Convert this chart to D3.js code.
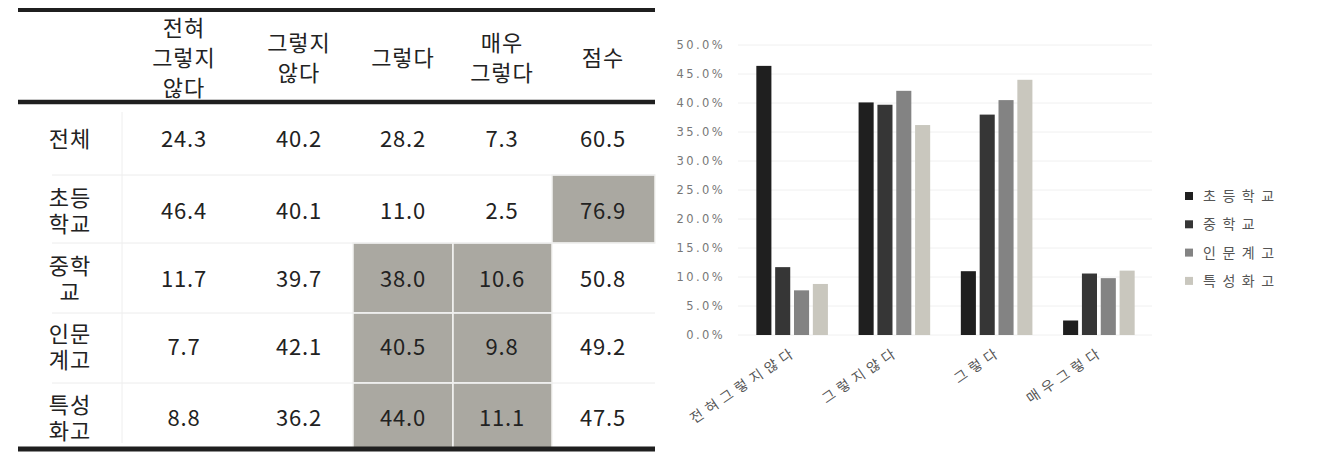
<!DOCTYPE html>
<html lang="ko">
<head>
<meta charset="utf-8">
<script src="https://cdn.jsdelivr.net/npm/d3@7"></script>
<style>
  html, body { margin: 0; padding: 0; background: #fff; }
  svg { display: block; }
</style>
</head>
<body>
<svg id="fig" width="1325" height="453"></svg>
<script>
// ---- data ----
const headerLabels = ["전혀\n그렇지\n않다", "그렇지\n않다", "그렇다", "매우\n그렇다", "점수"];
const rowLabels = ["전체", "초등\n학교", "중학\n교", "인문\n계고", "특성\n화고"];
const rowTotal = [24.3, 40.2, 28.2, 7.3, 60.5];
const rowElementary = [46.4, 40.1, 11.0, 2.5, 76.9];
const rowMiddle = [11.7, 39.7, 38.0, 10.6, 50.8];
const rowGeneralHigh = [7.7, 42.1, 40.5, 9.8, 49.2];
const rowVocationalHigh = [8.8, 36.2, 44.0, 11.1, 47.5];
const highlighted = [[1, 4], [2, 2], [2, 3], [3, 2], [3, 3], [4, 2], [4, 3]];

const categories = ["전혀그렇지않다", "그렇지않다", "그렇다", "매우그렇다"];
const schools = ["초등학교", "중학교", "인문계고", "특성화고"];
const yTicks = [0, 5, 10, 15, 20, 25, 30, 35, 40, 45, 50];

const tableRows = [rowTotal, rowElementary, rowMiddle, rowGeneralHigh, rowVocationalHigh];
const seriesRows = [rowElementary, rowMiddle, rowGeneralHigh, rowVocationalHigh];

const svg = d3.select("#fig");
const korFont = "'Noto Sans CJK KR', 'Noto Sans', sans-serif";

// ---- table ----
const colEdges = [22, 122, 245, 353, 453, 552, 655];
const rowEdges = [102, 175, 243, 313, 383, 448];
const headTop = 10, headBottom = 102;
const fmt = d3.format(".1f");

const table = svg.append("g").attr("class", "table");

// shaded cells
table.selectAll("rect.shade")
  .data(highlighted)
  .join("rect")
  .attr("class", "shade")
  .attr("x", d => colEdges[d[1] + 1])
  .attr("y", d => rowEdges[d[0]])
  .attr("width", d => colEdges[d[1] + 2] - colEdges[d[1] + 1])
  .attr("height", d => rowEdges[d[0] + 1] - rowEdges[d[0]])
  .attr("fill", "#aaa8a1")
  .attr("stroke", "#f4f4f2")
  .attr("stroke-width", 1.5);

// faint cell separators
table.selectAll("line.rowsep")
  .data(rowEdges.slice(1, -1))
  .join("line")
  .attr("class", "rowsep")
  .attr("x1", colEdges[0] + 30).attr("x2", colEdges[6])
  .attr("y1", d => d).attr("y2", d => d)
  .attr("stroke", "#ececec").attr("stroke-width", 1);
table.append("line")
  .attr("x1", colEdges[1]).attr("x2", colEdges[1])
  .attr("y1", headBottom + 10).attr("y2", rowEdges[5] - 5)
  .attr("stroke", "#eeeeee").attr("stroke-width", 1);

// rules
[[headTop, 4], [headBottom, 4.5], [rowEdges[5] + 1, 5]].forEach(([y, w]) => {
  table.append("line")
    .attr("x1", colEdges[0] - 4).attr("x2", colEdges[6])
    .attr("y1", y).attr("y2", y)
    .attr("stroke", "#1f1f1f").attr("stroke-width", w);
});

// each line of a wrapped label is its own text element
function multiline(g, text, cx, cy, lineH, size) {
  const lines = text.split("\n");
  lines.forEach((ln, i) => {
    g.append("text")
      .attr("x", cx)
      .attr("y", cy + (i - (lines.length - 1) / 2) * lineH)
      .attr("dy", "0.36em")
      .attr("text-anchor", "middle")
      .attr("font-family", korFont)
      .attr("font-size", size)
      .attr("letter-spacing", "1px")
      .attr("fill", "#222")
      .text(ln);
  });
}

const colCenters = [70, 184, 299, 403, 502, 603];

headerLabels.forEach((h, i) => multiline(table, h, colCenters[i + 1], 58, 30, 22));
const rowCenters = [139, 211, 279, 347, 418];
rowLabels.forEach((r, i) => multiline(table, r, colCenters[0], rowCenters[i], 26, 22));

tableRows.forEach((vals, ri) => {
  table.selectAll(null)
    .data(vals)
    .join("text")
    .attr("x", (d, ci) => colCenters[ci + 1])
    .attr("y", rowCenters[ri])
    .attr("dy", "0.36em")
    .attr("text-anchor", "middle")
    .attr("font-family", korFont)
    .attr("font-size", 22)
    .attr("letter-spacing", "0.8px")
    .attr("fill", "#222")
    .text(d => fmt(d));
});

// ---- bar chart ----
const chart = svg.append("g").attr("class", "chart");
const y = d3.scaleLinear().domain([0, 50]).range([335, 45]);
const x0 = d3.scaleBand().domain(categories).range([741, 1150]).paddingInner(0.3).paddingOuter(0.15);
const x1 = d3.scaleBand().domain(schools).range([0, x0.bandwidth()]).paddingInner(0.2);
const colors = d3.scaleOrdinal().domain(schools).range(["#1f1f1f", "#363636", "#838383", "#c9c7be"]);

// gridlines
chart.append("g")
  .selectAll("line")
  .data(yTicks)
  .join("line")
  .attr("x1", 738).attr("x2", 1152)
  .attr("y1", d => y(d)).attr("y2", d => y(d))
  .attr("stroke", "#f0f0f0").attr("stroke-width", 1);

// y axis
const yAxis = chart.append("g")
  .attr("transform", "translate(725,0)")
  .call(d3.axisLeft(y).tickValues(yTicks).tickSize(0).tickPadding(0).tickFormat(d => d.toFixed(1) + "%"));
yAxis.select(".domain").remove();
yAxis.selectAll("text")
  .attr("font-family", "'DejaVu Sans', sans-serif")
  .attr("font-size", 11.5)
  .attr("letter-spacing", "2.4px")
  .attr("fill", "#777");

// bars
const cells = categories.map((c, ci) => schools.map((s, si) => ({ cat: c, school: s, value: seriesRows[si][ci] })));
chart.append("g")
  .selectAll("g")
  .data(cells)
  .join("g")
  .attr("transform", (d, i) => `translate(${x0(categories[i])},0)`)
  .selectAll("rect")
  .data(d => d)
  .join("rect")
  .attr("x", d => x1(d.school))
  .attr("y", d => y(d.value))
  .attr("width", x1.bandwidth())
  .attr("height", d => y(0) - y(d.value))
  .attr("fill", d => colors(d.school));

// category labels
chart.append("g")
  .selectAll("text")
  .data(categories)
  .join("text")
  .attr("transform", d => `translate(${x0(d) + x0.bandwidth() / 2 + 6},${354}) rotate(-34)`)
  .attr("text-anchor", "end")
  .attr("font-family", korFont)
  .attr("font-size", 14)
  .attr("letter-spacing", "5px")
  .attr("fill", "#555")
  .text(d => d);

// legend
const legend = chart.append("g").attr("transform", "translate(1185,196)");
const li = legend.selectAll("g")
  .data(schools)
  .join("g")
  .attr("transform", (d, i) => `translate(0,${i * 28.3})`);
li.append("rect")
  .attr("x", 0).attr("y", -4).attr("width", 8).attr("height", 8)
  .attr("fill", d => colors(d));
li.append("text")
  .attr("x", 18).attr("y", 0).attr("dy", "0.36em")
  .attr("font-family", korFont)
  .attr("font-size", 14)
  .attr("letter-spacing", "6.5px")
  .attr("fill", "#555")
  .text(d => d);
</script>
</body>
</html>
